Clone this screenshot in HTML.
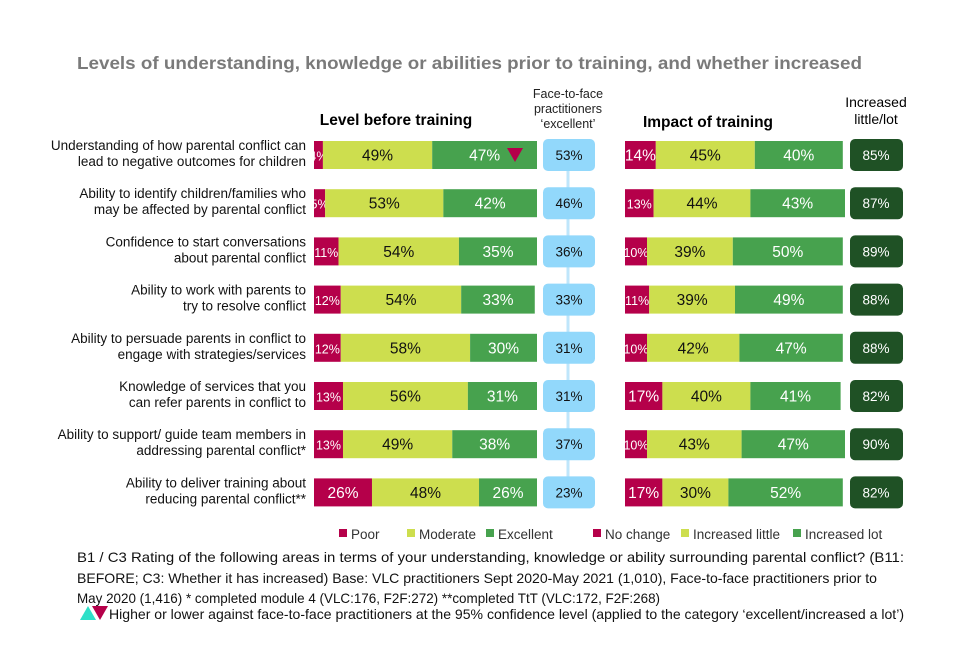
<!DOCTYPE html>
<html><head><meta charset="utf-8"><style>
body{margin:0;background:#fff;font-family:"Liberation Sans",sans-serif;}
svg text{font-family:"Liberation Sans",sans-serif;}
</style></head><body>
<svg width="960" height="640" viewBox="0 0 960 640">
<text x="77" y="69" textLength="785" lengthAdjust="spacingAndGlyphs" font-size="17.5" font-weight="bold" fill="#7a7a7a">Levels of understanding, knowledge or abilities prior to training, and whether increased</text>
<text x="396" y="125" text-anchor="middle" font-size="15.5" font-weight="bold" fill="#000">Level before training</text>
<text x="568" y="98" text-anchor="middle" font-size="12.5" fill="#222">Face-to-face</text>
<text x="568" y="113" text-anchor="middle" font-size="12.5" fill="#222">practitioners</text>
<text x="568" y="128" text-anchor="middle" font-size="12.5" fill="#222">‘excellent’</text>
<text x="708" y="127" text-anchor="middle" font-size="15.5" font-weight="bold" fill="#000">Impact of training</text>
<text x="876" y="107" text-anchor="middle" font-size="14" fill="#000">Increased</text>
<text x="876" y="124" text-anchor="middle" font-size="14" fill="#000">little/lot</text>
<line x1="568" y1="160" x2="568" y2="490" stroke="#bfe6fb" stroke-width="3"/>
<g id="rows"></g>
<g id="legend" font-size="14" fill="#333"></g>
<g font-size="14" fill="#111">
<text x="77" y="562" textLength="827" lengthAdjust="spacingAndGlyphs">B1 / C3 Rating of the following areas in terms of your understanding, knowledge or ability surrounding parental conflict? (B11:</text>
<text x="77" y="583" textLength="800" lengthAdjust="spacingAndGlyphs">BEFORE; C3: Whether it has increased) Base: VLC practitioners Sept 2020-May 2021 (1,010), Face-to-face practitioners prior to</text>
<text x="77" y="603" textLength="583" lengthAdjust="spacingAndGlyphs">May 2020 (1,416) * completed module 4 (VLC:176, F2F:272) **completed TtT (VLC:172, F2F:268)</text>
<text x="109" y="619" textLength="795" lengthAdjust="spacingAndGlyphs">Higher or lower against face-to-face practitioners at the 95% confidence level (applied to the category ‘excellent/increased a lot’)</text>
</g>
<polygon points="80,620 88,606 96,620" fill="#2ee0c8"/>
<polygon points="92,606 108,606 100,620" fill="#b5004a"/>
</svg>
<script>
const categories=[
["Understanding of how parental conflict can","lead to negative outcomes for children"],
["Ability to identify children/families who","may be affected by parental conflict"],
["Confidence to start conversations","about parental conflict"],
["Ability to work with parents to","try to resolve conflict"],
["Ability to persuade parents in conflict to","engage with strategies/services"],
["Knowledge of services that you","can refer parents in conflict to"],
["Ability to support/ guide team members in","addressing parental conflict*"],
["Ability to deliver training about","reducing parental conflict**"]];
const poor=[4,5,11,12,12,13,13,26];
const moderate=[49,53,54,54,58,56,49,48];
const excellent=[47,42,35,33,30,31,38,26];
const f2fExcellent=[53,46,36,33,31,31,37,23];
const noChange=[14,13,10,11,10,17,10,17];
const incLittle=[45,44,39,39,42,40,43,30];
const incLot=[40,43,50,49,47,41,47,52];
const incTotal=[85,87,89,88,88,82,90,82];
const lowerFlag=[true,false,false,false,false,false,false,false];
const legendLabels=["Poor","Moderate","Excellent","No change","Increased little","Increased lot"];

const NS="http://www.w3.org/2000/svg";
const C={p:"#b5004a",m:"#cdde4e",e:"#47a24e",b:"#92d8fb",d:"#1f5125"};
const rowY=i=>141+i*48.2;
const xL=v=>v*223/100, xR=v=>v*220/100;
const rows=document.getElementById('rows');
function el(t,a,p){const e=document.createElementNS(NS,t);for(const k in a)e.setAttribute(k,a[k]);(p||rows).appendChild(e);return e;}
function txt(x,y,s,fill,size,anchor,p){const t=el('text',{x:x,y:y,fill:fill,'font-size':size,'text-anchor':anchor||'middle'},p);t.textContent=s;return t;}
function seg(x,y,w,color,label,tc,name){
 const r=el('rect',{x:x,y:y,width:w,height:28,fill:color});
 
 
 const t=txt(x+w/2,y+19.5,label,tc,w<30?12.5:15.5);
 
 
}
categories.forEach((c,i)=>{
 const y=rowY(i);
 const l1=txt(306,y+9,c[0],'#111',13.5,'end');
 
 
 const l2=txt(306,y+25,c[1],'#111',13.5,'end');
 
 
 let x=314;
 seg(x,y,xL(poor[i]),C.p,poor[i]+'%','#fff','bar-poor'); x+=xL(poor[i]);
 seg(x,y,xL(moderate[i]),C.m,moderate[i]+'%','#111','bar-moderate'); x+=xL(moderate[i]);
 seg(x,y,xL(excellent[i]),C.e,excellent[i]+'%','#fff','bar-excellent');
 if(lowerFlag[i]){const tri=el('polygon',{points:`${x+xL(excellent[i])-30},${y+7} ${x+xL(excellent[i])-14},${y+7} ${x+xL(excellent[i])-22},${y+21}`,fill:C.p});
  
  }
 const b=el('rect',{x:543,y:y-2,width:52,height:32,rx:5,fill:C.b});
 
 
 const bt=txt(569,y+19,f2fExcellent[i]+'%','#111',13.5);
 
 
 x=625;
 seg(x,y,xR(noChange[i]),C.p,noChange[i]+'%','#fff','bar-no-change'); x+=xR(noChange[i]);
 seg(x,y,xR(incLittle[i]),C.m,incLittle[i]+'%','#111','bar-increased-little'); x+=xR(incLittle[i]);
 seg(x,y,xR(incLot[i]),C.e,incLot[i]+'%','#fff','bar-increased-lot');
 const d=el('rect',{x:850,y:y-2,width:53,height:32,rx:5,fill:C.d});
 
 
 const dt=txt(876,y+19,incTotal[i]+'%','#fff',13.5);
 
 
});
const lg=document.getElementById('legend');
const lx=[339,407,486,593,681,793], lc=[C.p,C.m,C.e,C.p,C.m,C.e];
legendLabels.forEach((s,i)=>{
 const r=el('rect',{x:lx[i],y:529,width:8,height:8,fill:lc[i]},lg);
 
 
 const t=txt(lx[i]+12,539,s,'#333',13.5,'start',lg);
 
 
});
</script>
</body></html>
